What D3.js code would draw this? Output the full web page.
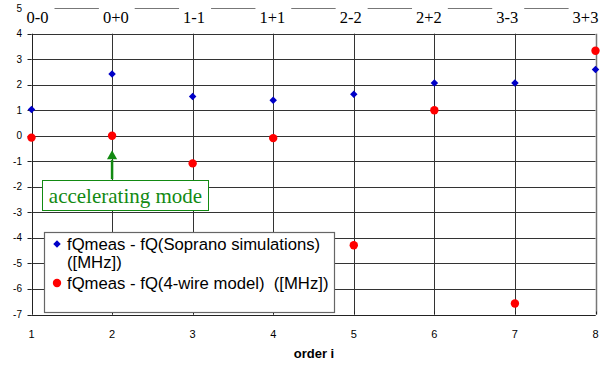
<!DOCTYPE html>
<html><head><meta charset="utf-8">
<script src="https://cdn.jsdelivr.net/npm/d3@7"></script>
<style>body{margin:0;background:#fff}svg{display:block}text{white-space:pre}</style>
</head><body>
<svg id="c" width="607" height="365"></svg>
<script>
const orders = [1,2,3,4,5,6,7,8];
const topLabels = ["0-0","0+0","1-1","1+1","2-2","2+2","3-3","3+3"];
const soprano = [1.03,2.42,1.54,1.39,1.63,2.07,2.07,2.6];
const fourWire = [-0.07,0.0,-1.08,-0.09,-4.29,1.0,-6.57,3.33];
const yTicks = [-7,-6,-5,-4,-3,-2,-1,0,1,2,3,4,5];
const xTicks = [1,2,3,4,5,6,7,8];
const legendLabels = [["fQmeas - fQ(Soprano simulations)","([MHz])"],["fQmeas - fQ(4-wire model)  ([MHz])"]];
const annotation = "accelerating mode";
const xTitle = "order i";

const svg = d3.select("#c");
const x = d3.scaleLinear().domain([1,8]).range([31.5,595.5]);
const y = d3.scaleLinear().domain([-7,4]).range([314.5,33.7]);
const grid = "#333";
const diamond = d3.symbol(d3.symbolSquare,28);

// horizontal gridlines
svg.append("g").selectAll("line").data(yTicks).join("line")
  .attr("x1",x(1)).attr("x2",x(8))
  .attr("y1",d=>Math.round(y(d))+0.5).attr("y2",d=>Math.round(y(d))+0.5)
  .attr("stroke",d=>d===5?"#777":grid).attr("stroke-width",1);
// vertical gridlines
svg.append("g").selectAll("line").data(xTicks.slice(1)).join("line")
  .attr("x1",d=>Math.round(x(d))+0.5).attr("x2",d=>Math.round(x(d))+0.5)
  .attr("y1",y(4)).attr("y2",y(-7))
  .attr("stroke",d=>d===8?"#777":grid).attr("stroke-width",d=>d===8?1.5:1);
// y axis
svg.append("line").attr("x1",Math.round(x(1))+0.5).attr("x2",Math.round(x(1))+0.5)
  .attr("y1",y(4)).attr("y2",y(-7)).attr("stroke","#222");
svg.append("g").selectAll("line").data(yTicks).join("line")
  .attr("x1",x(1)-4).attr("x2",x(1))
  .attr("y1",d=>Math.round(y(d))+0.5).attr("y2",d=>Math.round(y(d))+0.5).attr("stroke","#222");
svg.append("g").selectAll("text").data(yTicks).join("text")
  .attr("x",22).attr("y",d=>y(d)).attr("dy","0.35em").attr("text-anchor","end")
  .attr("font-family","Liberation Sans, Arial, sans-serif").attr("font-size",10).attr("fill","#000")
  .text(d=>d);
// x axis
svg.append("g").selectAll("line").data(xTicks).join("line")
  .attr("x1",d=>Math.round(x(d))+0.5).attr("x2",d=>Math.round(x(d))+0.5)
  .attr("y1",y(-7)).attr("y2",y(-7)-3).attr("stroke","#222");
svg.append("line").attr("x1",x(1)).attr("x2",x(8)).attr("y1",Math.round(y(-7))+0.5).attr("y2",Math.round(y(-7))+0.5).attr("stroke","#222");
svg.append("g").selectAll("text").data(xTicks).join("text")
  .attr("x",d=>x(d)).attr("y",y(-7)+20).attr("dy","0.35em").attr("text-anchor","middle")
  .attr("font-family","Liberation Sans, Arial, sans-serif").attr("font-size",11).attr("fill","#000")
  .text(d=>d);
svg.append("text").attr("x",314).attr("y",358).attr("text-anchor","middle")
  .attr("font-family","Liberation Sans, Arial, sans-serif").attr("font-size",13).attr("font-weight","bold")
  .text(xTitle);

// top labels
const tl = d3.scalePoint().domain(topLabels).range([x(1)+6, x(8)-10]);
const tg = svg.append("g");
topLabels.forEach(l=>{
  const g = tg.append("g");
  const t = g.append("text").attr("x",tl(l)).attr("y",17).attr("dy","0.35em").attr("text-anchor","middle")
    .attr("font-family","Liberation Serif, Times New Roman, serif").attr("font-size",16.5).attr("fill","#000").text(l);
  const bb = t.node().getBBox();
  g.insert("rect","text").attr("x",bb.x-4).attr("y",0).attr("width",bb.width+10).attr("height",28).attr("fill","#fff");
});

// data markers
svg.append("g").selectAll("path").data(orders).join("path")
  .attr("d",diamond)
  .attr("transform",(d,i)=>`translate(${x(d)},${y(soprano[i])}) rotate(45)`).attr("fill","#0000c8");
svg.append("g").selectAll("circle").data(orders).join("circle")
  .attr("cx",d=>x(d)).attr("cy",(d,i)=>y(fourWire[i])).attr("r",4.2).attr("fill","#ff0000");

// annotation
const green = "#128a12";
svg.append("line").attr("x1",x(2)).attr("x2",x(2)).attr("y1",y(-1.7)).attr("y2",y(-0.95))
  .attr("stroke",green).attr("stroke-width",2.5);
svg.append("path").attr("d",d3.symbol(d3.symbolTriangle,45))
  .attr("transform",`translate(${x(2)},${y(-0.8)})`).attr("fill",green);
svg.append("rect").attr("x",42.5).attr("y",180.5).attr("width",166).attr("height",30)
  .attr("fill","#fff").attr("stroke",green).attr("stroke-width",1);
svg.append("text").attr("x",125.5).attr("y",196).attr("dy","0.35em").attr("text-anchor","middle")
  .attr("font-family","Liberation Serif, Times New Roman, serif").attr("font-size",21).attr("fill",green)
  .text(annotation);

// legend
svg.append("rect").attr("x",44.5).attr("y",232.5).attr("width",290).attr("height",80)
  .attr("fill","#fff").attr("stroke","#666").attr("stroke-width",1.2);
const lf = "Liberation Sans, Arial, sans-serif";
svg.append("path").attr("d",diamond).attr("transform","translate(57,244) rotate(45)").attr("fill","#0000c8");
svg.append("circle").attr("cx",57).attr("cy",283).attr("r",4.2).attr("fill","#ff0000");
svg.append("text").attr("x",67).attr("y",250).attr("font-family",lf).attr("font-size",16.7).text(legendLabels[0][0]);
svg.append("text").attr("x",67).attr("y",268).attr("font-family",lf).attr("font-size",16.7).text(legendLabels[0][1]);
svg.append("text").attr("x",67).attr("y",289).attr("font-family",lf).attr("font-size",16.7).text(legendLabels[1][0]);
</script>
</body></html>
